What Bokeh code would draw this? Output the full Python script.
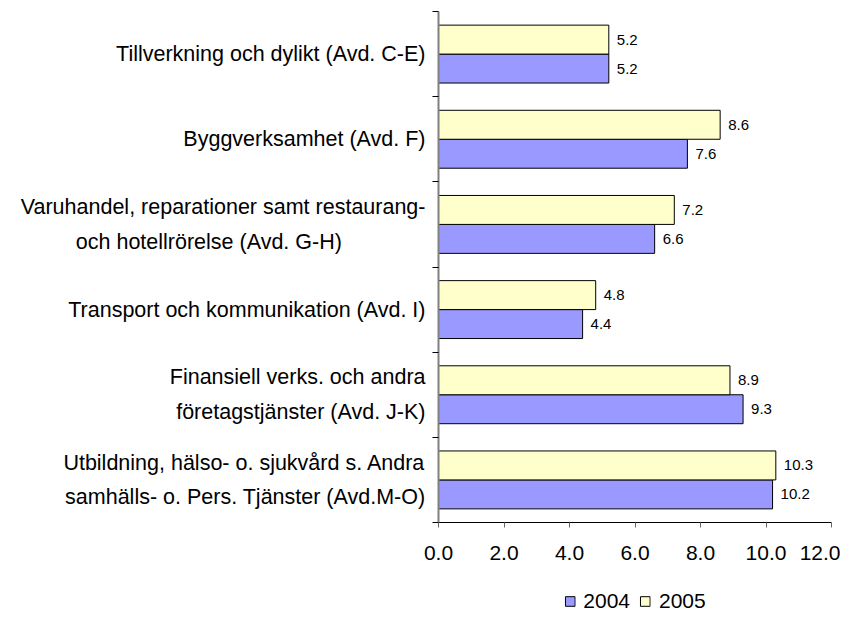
from bokeh.plotting import figure
from bokeh.models import (FixedTicker, NumeralTickFormatter, Range1d, ColumnDataSource,
                          Legend, LegendItem)
from bokeh.layouts import column
from bokeh.transform import dodge
from bokeh.core.properties import value
from bokeh.embed import file_html
from bokeh.resources import INLINE

NB = "\u00a0"
categories = [
    "Tillverkning och dylikt (Avd. C-E)",
    "Byggverksamhet (Avd. F)",
    "Varuhandel, reparationer samt restaurang-\noch hotellrörelse (Avd. G-H)" + NB * 14,
    "Transport och kommunikation (Avd. I)",
    "Finansiell verks. och andra\nföretagstjänster (Avd. J-K)",
    "Utbildning, hälso- o. sjukvård s. Andra\nsamhälls- o. Pers. Tjänster (Avd.M-O)",
]
values_2004 = [5.2, 7.6, 6.6, 4.4, 9.3, 10.2]
values_2005 = [5.2, 8.6, 7.2, 4.8, 8.9, 10.3]
series_names = ["2004", "2005"]
series_colors = ["#9999FF", "#FFFFCC"]
x_ticks = [0, 2, 4, 6, 8, 10, 12]

FONT = "Liberation Sans"
n = len(categories)
ys = [n - i - 0.5 for i in range(n)]
bounds = list(range(n + 1))

src = ColumnDataSource(dict(
    y=ys, v04=values_2004, v05=values_2005,
    l04=[f"{v:.1f}" for v in values_2004],
    l05=[f"{v:.1f}" for v in values_2005],
))

p = figure(frame_width=393, frame_height=511, output_backend="svg", toolbar_location=None,
           x_range=Range1d(0, 12), y_range=Range1d(0, n),
           min_border_left=438, min_border_right=9, min_border_top=11,
           min_border_bottom=0)
p.outline_line_color = None
p.xgrid.visible = False
p.ygrid.visible = False

p.hbar(y=dodge("y", -0.17), left=0, right="v04", height=0.34, source=src,
       fill_color=series_colors[0], line_color="black", line_width=1)
p.hbar(y=dodge("y", 0.17), left=0, right="v05", height=0.34, source=src,
       fill_color=series_colors[1], line_color="black", line_width=1)

p.text(x="v04", y=dodge("y", -0.17), text="l04", source=src, x_offset=8,
       text_baseline="middle", text_align="left", text_font=value(FONT),
       text_font_size="15px", text_color="black")
p.text(x="v05", y=dodge("y", 0.17), text="l05", source=src, x_offset=8,
       text_baseline="middle", text_align="left", text_font=value(FONT),
       text_font_size="15px", text_color="black")

# x axis
xa = p.xaxis[0]
xa.ticker = FixedTicker(ticks=x_ticks)
xa.formatter = NumeralTickFormatter(format="0.0")
xa.axis_line_color = "black"
xa.major_tick_in = 0
xa.major_tick_out = 5
xa.major_tick_line_color = "#666666"
xa.minor_tick_line_color = None
xa.major_label_standoff = 18
xa.major_label_text_font = FONT
xa.major_label_text_font_size = "21px"
xa.major_label_text_color = "black"

# y axis
ya = p.yaxis[0]
ya.ticker = FixedTicker(ticks=ys, minor_ticks=bounds)
ya.major_label_overrides = {y: c for y, c in zip(ys, categories)}
ya.axis_line_color = "#808080"
ya.axis_line_width = 2
ya.major_tick_in = 0
ya.major_tick_out = 0
ya.minor_tick_in = 0
ya.minor_tick_out = 6
ya.minor_tick_line_color = "black"
ya.major_label_standoff = 7
ya.major_label_text_font = FONT
ya.major_label_text_font_size = "21.5px"
ya.major_label_text_color = "black"
ya.major_label_text_line_height = 1.45

# legend strip below the chart (its renderers lie outside its visible range)
lg = figure(frame_width=393, frame_height=56, output_backend="svg", toolbar_location=None,
            x_axis_location=None, y_axis_location=None,
            min_border_left=430, min_border_right=17, min_border_top=0, min_border_bottom=0,
            x_range=Range1d(0, 12), y_range=Range1d(n + 1, n + 2))
lg.outline_line_color = None
lg.grid.visible = False
items = []
for name, col, field in zip(series_names, series_colors, ["v04", "v05"]):
    r = lg.hbar(y="y", left=0, right=field, height=0.34, source=src,
                fill_color=col, line_color="black", line_width=1)
    items.append(LegendItem(label=name, renderers=[r]))
legend = Legend(items=items, orientation="horizontal", location="top_center",
                glyph_width=12, glyph_height=12, label_standoff=8, spacing=9,
                label_text_font=FONT, label_text_font_size="21px",
                label_text_color="black",
                border_line_color=None, background_fill_alpha=0,
                padding=2, margin=27)
lg.add_layout(legend, "center")

open("out.html", "w").write(file_html(column(p, lg), INLINE))
